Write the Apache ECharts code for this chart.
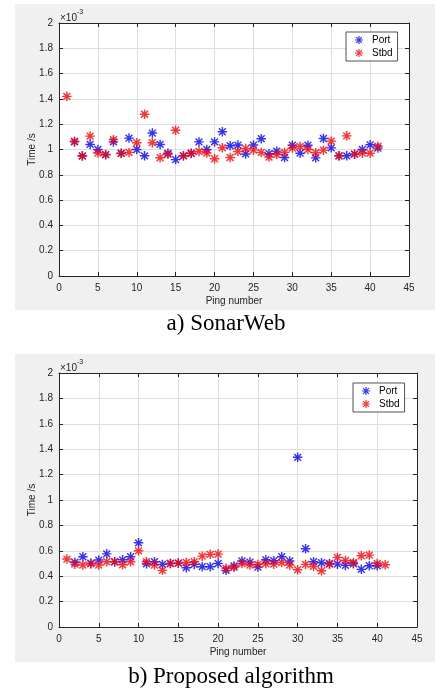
<!DOCTYPE html>
<html>
<head>
<meta charset="utf-8">
<script src="https://cdn.jsdelivr.net/npm/echarts@6/dist/echarts.min.js"></script>
<style>
  html, body { margin: 0; padding: 0; background: #fff; }
  #chart { width: 436px; height: 691px; }
</style>
</head>
<body>
<div id="chart"></div>
<script>
// ping numbers 1..41, times in units of 1e-3 s
const pings = Array.from({ length: 41 }, (_, i) => i + 1)

// a) SonarWeb
const portA = [null, 1.06, 0.95, 1.04, 1.00, 0.96, 1.06, 0.97, 1.09, 1.00, 0.95,
  1.13, 1.04, 0.97, 0.92, 0.95, 0.97, 1.06, 1.00, 1.06, 1.14,
  1.03, 1.035, 0.965, 1.035, 1.085, 0.967, 0.987, 0.937, 1.034, 0.971,
  1.034, 0.934, 1.087, 1.013, 0.95, 0.95, 0.963, 1.00, 1.037, 1.011]
const stbdA = [1.42, 1.065, 0.948, 1.106, 0.972, 0.959, 1.078, 0.969, 0.977, 1.054,
  1.279, 1.054, 0.935, 0.962, 1.152, 0.951, 0.968, 0.984, 0.972, 0.927,
  1.014, 0.937, 0.984, 1.007, 0.995, 0.977, 0.94, 0.96, 0.977, 1.012,
  1.024, 1.00, 0.974, 0.995, 1.066, 0.95, 1.108, 0.963, 0.971, 0.971, 1.026]

// b) Proposed algorithm
const portB = [null, 0.51, 0.553, 0.503, 0.527, 0.576, 0.514, 0.529, 0.553, 0.663,
  0.498, 0.514, 0.493, 0.50, 0.503, 0.467, 0.493, 0.475, 0.475, 0.50,
  0.446, 0.48, 0.52, 0.511, 0.472, 0.529, 0.522, 0.553, 0.52, 1.336,
  0.616, 0.514, 0.506, 0.50, 0.495, 0.485, 0.498, 0.454, 0.482, 0.482, null]
const stbdB = [0.535, 0.495, 0.488, 0.497, 0.488, 0.514, 0.514, 0.49, 0.514, 0.60,
  0.514, 0.488, 0.446, 0.50, 0.503, 0.508, 0.514, 0.558, 0.572, 0.574,
  0.462, 0.47, 0.50, 0.488, 0.493, 0.498, 0.495, 0.508, 0.488, 0.451,
  0.493, 0.477, 0.443, 0.495, 0.548, 0.524, 0.508, 0.561, 0.566, 0.50, 0.49]

const captions = ['a) SonarWeb', 'b) Proposed algorithm']

// matlab style '*' marker
const STAR = 'path://M-0.15,-1L0.15,-1L0.15,1L-0.15,1Z' +
  'M-1,-0.15L1,-0.15L1,0.15L-1,0.15Z' +
  'M-0.614,-0.826L0.826,0.614L0.614,0.826L-0.826,-0.614Z' +
  'M-0.826,0.614L0.614,-0.826L0.826,-0.614L-0.614,0.826Z'

const AX = '#262626'
const FONT = 'Liberation Sans, Arial, sans-serif'
const SERIF = 'Liberation Serif, Times New Roman, serif'

const toPoints = arr => pings.map((p, i) => [p, arr[i]]).filter(d => d[1] != null)

function axesFor (g) {
  const xBottom = {
    gridIndex: g, type: 'value', min: 0, max: 45, interval: 5, position: 'bottom',
    name: 'Ping number', nameLocation: 'middle', nameGap: 20, nameMoveOverlap: false,
    nameTextStyle: { color: AX, fontSize: 10, fontFamily: FONT },
    axisLine: { onZero: false, lineStyle: { color: AX, width: 1 } },
    axisTick: { inside: true, length: 4, lineStyle: { color: AX } },
    axisLabel: { color: AX, fontSize: 10, fontFamily: FONT, margin: 7, showMinLabel: true, showMaxLabel: true },
    splitLine: { show: true, lineStyle: { color: '#dedede', width: 1 } }
  }
  const xTop = {
    gridIndex: g, type: 'value', min: 0, max: 45, interval: 5, position: 'top',
    axisLine: { onZero: false, lineStyle: { color: AX, width: 1 } },
    axisTick: { inside: true, length: 4, lineStyle: { color: AX } },
    axisLabel: { show: false },
    splitLine: { show: false }
  }
  const yLeft = {
    gridIndex: g, type: 'value', min: 0, max: 2, interval: 0.2, position: 'left',
    name: 'Time /s', nameLocation: 'middle', nameGap: 22, nameRotate: 90, nameMoveOverlap: false,
    nameTextStyle: { color: AX, fontSize: 10, fontFamily: FONT },
    axisLine: { onZero: false, show: true, lineStyle: { color: AX, width: 1 } },
    axisTick: { show: true, inside: true, length: 4, lineStyle: { color: AX } },
    axisLabel: {
      color: AX, fontSize: 10, fontFamily: FONT, margin: 6,
      showMinLabel: true, showMaxLabel: true,
      formatter: v => String(Math.round(v * 10) / 10)
    },
    splitLine: { show: true, lineStyle: { color: '#dedede', width: 1 } }
  }
  const yRight = {
    gridIndex: g, type: 'value', min: 0, max: 2, interval: 0.2, position: 'right',
    axisLine: { onZero: false, show: true, lineStyle: { color: AX, width: 1 } },
    axisTick: { show: true, inside: true, length: 4, lineStyle: { color: AX } },
    axisLabel: { show: false },
    splitLine: { show: false }
  }
  return { x: [xBottom, xTop], y: [yLeft, yRight] }
}

const a0 = axesFor(0)
const a1 = axesFor(1)

function legendAt (left, top) {
  return {
    left: left, top: top, orient: 'vertical',
    data: ['Port', 'Stbd'],
    itemWidth: 14, itemHeight: 8, itemGap: 3,
    padding: [3, 5, 3, 9],
    backgroundColor: '#fff', borderColor: AX, borderWidth: 0.8, borderRadius: 0,
    textStyle: { color: '#000', fontSize: 10, fontFamily: FONT, padding: [0, 0, 0, 1] }
  }
}

function scatter (name, color, data, xi, yi) {
  return {
    name: name, type: 'scatter', xAxisIndex: xi, yAxisIndex: yi,
    symbol: STAR, symbolSize: 9.5,
    itemStyle: { color: color },
    data: toPoints(data),
    animation: false
  }
}

function exponent (left, top) {
  return {
    type: 'text', left: left, top: top, z: 10,
    style: {
      text: '{a|×10}{b|-3}',
      rich: {
        a: { fontSize: 10, fontFamily: FONT, fill: AX, verticalAlign: 'bottom', padding: [4, 0, 0, 0] },
        b: { fontSize: 7, fontFamily: FONT, fill: AX, verticalAlign: 'top' }
      }
    }
  }
}

const option = {
  animation: false,
  backgroundColor: '#fff',
  grid: [
    { left: 59, top: 23, right: 27, height: 253, show: true, backgroundColor: '#fff', borderWidth: 0 },
    { left: 59, top: 373, right: 19, height: 254, show: true, backgroundColor: '#fff', borderWidth: 0 }
  ],
  xAxis: [
    a0.x[0], a0.x[1],
    a1.x[0], a1.x[1]
  ],
  yAxis: [
    a0.y[0], a0.y[1],
    a1.y[0], a1.y[1]
  ],
  legend: [legendAt(346, 32), legendAt(353, 383)],
  series: [
    scatter('Port', '#0000ff', portA, 0, 0),
    scatter('Stbd', '#ff0000', stbdA, 0, 0),
    scatter('Port', '#0000ff', portB, 2, 2),
    scatter('Stbd', '#ff0000', stbdB, 2, 2)
  ],
  graphic: [
    { type: 'rect', shape: { x: 15, y: 4, width: 420, height: 306 }, style: { fill: '#f0f0f0' }, z: -10, silent: true },
    { type: 'rect', shape: { x: 15, y: 354, width: 420, height: 308 }, style: { fill: '#f0f0f0' }, z: -10, silent: true },
    exponent(60, 9),
    exponent(60, 359),
    {
      type: 'text', x: 226, y: 324, z: 10,
      style: { text: captions[0], fontSize: 23, fontFamily: SERIF, fill: '#000', align: 'center', verticalAlign: 'middle' }
    },
    {
      type: 'text', x: 231, y: 677, z: 10,
      style: { text: captions[1], fontSize: 23, fontFamily: SERIF, fill: '#000', align: 'center', verticalAlign: 'middle' }
    }
  ]
}

const myChart = echarts.init(document.getElementById('chart'), null, { renderer: 'canvas' })
myChart.setOption(option)
</script>
</body>
</html>
